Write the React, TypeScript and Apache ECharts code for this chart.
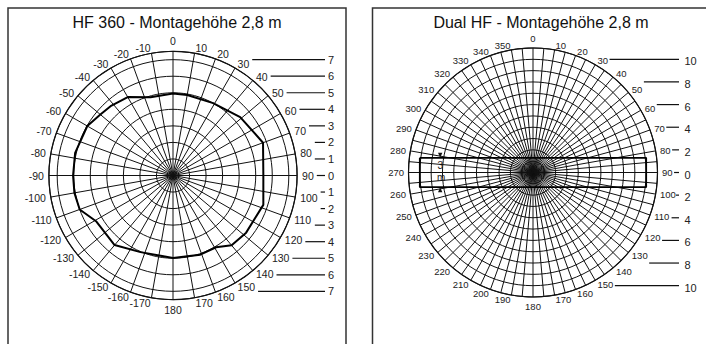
import React, { useEffect, useRef } from 'react';
import * as echarts from 'echarts';

const leftTitle = 'HF 360 - Montagehöhe 2,8 m';
const rightTitle = 'Dual HF - Montagehöhe 2,8 m';

// Left chart: detection outline (angle in degrees, clockwise from 0 at top; distance in m)
const leftAngles = [0, 10, 29, 49, 70, 90, 108, 128, 140, 149, 161, 180, -157, -140, -121, -110, -100, -90, -77, -60, -50, -42, -30, -16, 0];
const leftDistances = [4.96, 4.94, 5.0, 5.38, 5.79, 5.46, 5.74, 5.61, 5.51, 5.06, 5.06, 4.98, 5.03, 5.49, 5.4, 6.0, 6.05, 6.04, 6.07, 5.98, 5.73, 5.64, 5.47, 4.92, 4.96];

// Angle tick labels
const leftAngleTicks = [0, 10, 20, 30, 40, 50, 60, 70, 80, 90, 100, 110, 120, 130, 140, 150, 160, 170, 180,
  -10, -20, -30, -40, -50, -60, -70, -80, -90, -100, -110, -120, -130, -140, -150, -160, -170];
const rightAngleTicks = [0, 10, 20, 30, 40, 50, 60, 70, 80, 90, 100, 110, 120, 130, 140, 150, 160, 170, 180,
  190, 200, 210, 220, 230, 240, 250, 260, 270, 280, 290, 300, 310, 320, 330, 340, 350];

// Distance scales (m, positive = above the centre line)
const leftScaleTicks = [7, 6, 5, 4, 3, 2, 1, 0, -1, -2, -3, -4, -5, -6, -7];
const rightScaleTicks = [10, 8, 6, 4, 2, 0, -2, -4, -6, -8, -10];

// Right chart: detection band (m)
const bandHalfLength = [10];
const bandHalfWidth = [1.3];
const bandMarkX = [-8.2];
const bandMarkText = ['3', 'm'];

const FONT = 'Liberation Sans, Arial, Helvetica, sans-serif';
const INK = '#111';

// layout
const L = { cx: 173, cy: 175.5, R: 124.1, max: 7.5, labelGap: 5, labelSize: 10.5, lineEnd: 325, numX: 328, after: 3, near: 11 };
const Rr = { cx: 533, cy: 172.5, R: 124.5, max: 11, labelGap: 4.5, labelSize: 9.5, lineEnd: 679, numX: 684.5, after: 1.5, near: 9 };

type Lay = typeof L;

function labelWidth(s: string, size: number) {
  let w = 0;
  for (const ch of s) w += ch === '-' ? 0.333 : 0.556;
  return w * size;
}

function angleLabelInfo(P: Lay, ticks: number[]) {
  return ticks.map((v) => {
    const t = (v * Math.PI) / 180;
    const s = Math.sin(t);
    const c = Math.cos(t);
    const rr = P.R + P.labelGap;
    const x = P.cx + rr * s;
    const y = P.cy - rr * c;
    const align = Math.abs(s) < 0.05 ? 'center' : s > 0 ? 'left' : 'right';
    const vAlign = Math.abs(s) < 0.05 ? (c > 0 ? 'bottom' : 'top') : 'middle';
    const text = String(v);
    return { x, y, align, vAlign, text, right: align === 'left' ? x + labelWidth(text, P.labelSize) : x };
  });
}

function App() {
  const ref = useRef<HTMLDivElement>(null);
  useEffect(() => {
    document.body.style.margin = '0';
    if (!ref.current) return;
    const chart = echarts.init(ref.current, null, { renderer: 'svg' });

    const leftData = leftAngles.map((a, i) => [leftDistances[i], a < 0 ? a + 360 : a]);

    const toPolar = (x: number, y: number) => {
      let a = (Math.atan2(x, y) * 180) / Math.PI;
      if (a < 0) a += 360;
      return [Math.hypot(x, y), a];
    };
    const hl = bandHalfLength[0];
    const hw = bandHalfWidth[0];
    const bandData = [
      toPolar(-hl, hw),
      toPolar(hl, hw),
      toPolar(hl, -hw),
      toPolar(-hl, -hw),
      toPolar(-hl, hw),
    ];

    const elements: any[] = [];
    elements.push({
      type: 'rect', silent: true,
      shape: { x: 8, y: 8, width: 338, height: 400 },
      style: { fill: 'none', stroke: '#333', lineWidth: 1.5 },
    });
    elements.push({
      type: 'rect', silent: true,
      shape: { x: 372.5, y: 8, width: 400, height: 400 },
      style: { fill: 'none', stroke: '#333', lineWidth: 1.5 },
    });

    const addPanel = (P: Lay, aTicks: number[], sTicks: number[]) => {
      const info = angleLabelInfo(P, aTicks);
      info.forEach((l) => {
        elements.push({
          type: 'text', silent: true, x: l.x, y: l.y,
          style: { text: l.text, font: `${P.labelSize}px ${FONT}`, fill: '#222', align: l.align, verticalAlign: l.vAlign },
        });
      });
      const px = P.R / P.max;
      sTicks.forEach((k) => {
        const y = P.cy - k * px;
        const dy = Math.abs(k * px);
        let x0 = P.cx + Math.sqrt(Math.max(0, P.R * P.R - dy * dy)) + 12;
        info.forEach((l) => {
          if (l.align === 'left' && Math.abs(l.y - y) < P.near) x0 = Math.max(x0, l.right + P.after);
        });
        x0 = Math.min(x0, P.lineEnd - 3);
        elements.push({
          type: 'line', silent: true,
          shape: { x1: x0, y1: y, x2: P.lineEnd, y2: y },
          style: { stroke: INK, lineWidth: 1.2 },
        });
        elements.push({
          type: 'text', silent: true, x: P.numX, y: y + (P === Rr ? 2 : 0),
          style: { text: String(Math.abs(k)), font: `11px ${FONT}`, fill: '#222', align: 'left', verticalAlign: 'middle' },
        });
      });
    };
    addPanel(L, leftAngleTicks, leftScaleTicks);
    addPanel(Rr, rightAngleTicks, rightScaleTicks);

    // dimension marker inside the band
    const rpx = Rr.R / Rr.max;
    const mx = Rr.cx + bandMarkX[0] * rpx;
    const top = Rr.cy - hw * rpx;
    const bot = Rr.cy + hw * rpx;
    elements.push({
      type: 'polygon', silent: true,
      shape: { points: [[mx - 2.2, top - 5], [mx + 2.2, top - 5], [mx, top]] },
      style: { fill: INK },
    });
    elements.push({
      type: 'polygon', silent: true,
      shape: { points: [[mx - 2.2, bot + 5], [mx + 2.2, bot + 5], [mx, bot]] },
      style: { fill: INK },
    });
    elements.push({
      type: 'text', silent: true, x: mx, y: Rr.cy - 7,
      style: { text: bandMarkText[0], font: `10px ${FONT}`, fill: '#222', align: 'center', verticalAlign: 'middle' },
    });
    elements.push({
      type: 'text', silent: true, x: mx + 1, y: Rr.cy + 4.5,
      style: { text: bandMarkText[1], font: `10px ${FONT}`, fill: '#222', align: 'center', verticalAlign: 'middle' },
    });

    const grid = { color: INK, width: 1 };

    chart.setOption({
      animation: false,
      backgroundColor: '#fff',
      title: [
        { text: leftTitle, left: 177, top: 14, padding: 0, textAlign: 'center',
          textStyle: { fontSize: 16, fontWeight: 'normal', color: '#111', fontFamily: FONT } },
        { text: rightTitle, left: 541, top: 14, padding: 0, textAlign: 'center',
          textStyle: { fontSize: 16, fontWeight: 'normal', color: '#111', fontFamily: FONT } },
      ],
      polar: [
        { center: [L.cx, L.cy], radius: L.R },
        { center: [Rr.cx, Rr.cy], radius: Rr.R },
      ],
      angleAxis: [
        {
          polarIndex: 0, type: 'value', min: 0, max: 360, interval: 10,
          startAngle: 90, clockwise: true,
          axisLine: { show: true, lineStyle: { color: INK, width: 1.2 } },
          axisTick: { show: false },
          axisLabel: { show: false },
          splitLine: { show: true, lineStyle: grid },
        },
        {
          polarIndex: 1, type: 'value', min: 0, max: 360, interval: 5,
          startAngle: 90, clockwise: true,
          axisLine: { show: true, lineStyle: { color: INK, width: 1.2 } },
          axisTick: { show: false },
          axisLabel: { show: false },
          splitLine: { show: true, lineStyle: grid },
        },
      ],
      radiusAxis: [
        {
          polarIndex: 0, type: 'value', min: 0, max: L.max, interval: 1,
          axisLine: { show: false }, axisTick: { show: false }, axisLabel: { show: false },
          splitLine: { show: true, lineStyle: grid },
        },
        {
          polarIndex: 1, type: 'value', min: 0, max: Rr.max, interval: 1,
          axisLine: { show: false }, axisTick: { show: false }, axisLabel: { show: false },
          splitLine: { show: true, lineStyle: grid },
        },
      ],
      series: [
        {
          type: 'line', coordinateSystem: 'polar', polarIndex: 0, data: leftData,
          symbol: 'none', silent: true, lineStyle: { color: '#000', width: 2 },
        },
        {
          type: 'line', coordinateSystem: 'polar', polarIndex: 1, data: bandData,
          symbol: 'none', silent: true, lineStyle: { color: '#000', width: 1.8 },
        },
      ],
      graphic: { elements },
    });

    return () => chart.dispose();
  }, []);

  return <div ref={ref} style={{ width: 706, height: 344 }} />;
}

export default App;
